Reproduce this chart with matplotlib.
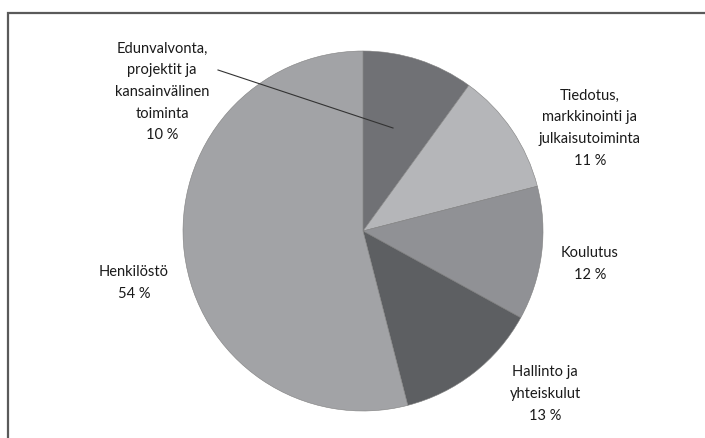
import matplotlib
matplotlib.use("Agg")
import matplotlib.pyplot as plt
from matplotlib.patches import Rectangle

plt.rcParams['font.family'] = ['Lato', 'DejaVu Sans']

labels = ['Edunvalvonta,\nprojektit ja\nkansainvälinen\ntoiminta',
          'Tiedotus,\nmarkkinointi ja\njulkaisutoiminta',
          'Koulutus',
          'Hallinto ja\nyhteiskulut',
          'Henkilöstö']
values = [10, 11, 12, 13, 54]
colors = ['#707175', '#b5b6b9', '#909195', '#5d5f62', '#a2a3a6']
# label centres in pixels (x, y from top)
label_px = [(162, 92), (590, 128), (590, 264), (545, 394), (134, 283)]

W, H = 705, 438
fig = plt.figure(figsize=(W / 100, H / 100), dpi=100)

cx, cy, r = 363, 231, 180
ax = fig.add_axes([(cx - r) / W, (H - cy - r) / H, 2 * r / W, 2 * r / H])
ax.pie(values, colors=colors, startangle=90, counterclock=False, radius=1,
       wedgeprops=dict(edgecolor='#808080', linewidth=0.4))
ax.set_xlim(-1, 1)
ax.set_ylim(-1, 1)
ax.set_aspect('equal')
ax.axis('off')

def fx(px):
    return px / W

def fy(py):
    return 1 - py / H

for lab, v, (px, py) in zip(labels, values, label_px):
    fig.text(fx(px), fy(py), f'{lab}\n{v} %', ha='center', va='center',
             fontsize=10.5, color='#1a1a1a', linespacing=1.7)

# leader line for the first slice
fig.add_artist(plt.Line2D([fx(218), fx(393)], [fy(70), fy(128)],
                          color='#333333', linewidth=0.8))

# chart frame (right and bottom edges cut off)
fig.add_artist(Rectangle((fx(8), fy(460)), fx(720), fy(13) - fy(460),
                         fill=False, edgecolor='#5a5a5a', linewidth=1.6,
                         transform=fig.transFigure))

fig.savefig('out.png', dpi=100)
